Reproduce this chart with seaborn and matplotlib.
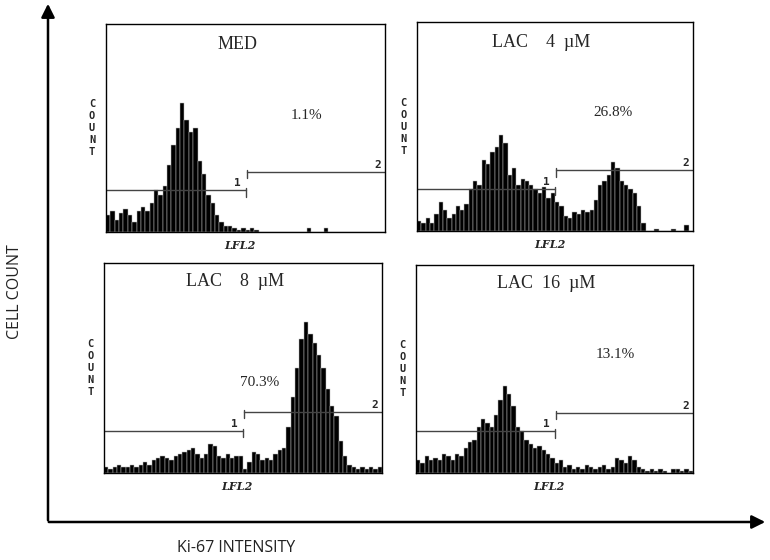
import seaborn as sns
import matplotlib.pyplot as plt
import numpy as np

sns.set_style("white")

# channel bins (64 bins over 1024 channels), counts
channels = np.arange(64) * 16 + 8

med_counts = [8, 10, 6, 9, 11, 8, 5, 10, 12, 10, 14, 20, 18, 22, 32, 42,
              50, 62, 54, 48, 50, 34, 28, 18, 14, 8, 5, 3, 3, 2, 1, 2,
              1, 2, 1, 0, 0, 0, 0, 0, 0, 0, 0, 0, 0, 0, 2, 0,
              0, 0, 2, 0, 0, 0, 0, 0, 0, 0, 0, 0, 0, 0, 0, 0]
lac4_counts = [5, 4, 6, 4, 8, 14, 10, 6, 8, 12, 10, 13, 20, 24, 22, 34,
               32, 38, 40, 46, 42, 27, 30, 22, 25, 24, 22, 20, 18, 21, 16, 18,
               14, 12, 7, 6, 9, 8, 10, 9, 10, 15, 22, 24, 27, 33, 30, 24,
               22, 20, 18, 12, 4, 0, 0, 1, 0, 0, 0, 1, 0, 0, 3, 0]
lac8_counts = [3, 2, 3, 4, 3, 3, 4, 3, 4, 5, 4, 6, 7, 8, 7, 6,
               8, 9, 10, 11, 12, 9, 7, 9, 14, 13, 8, 7, 9, 7, 8, 8,
               2, 5, 10, 9, 6, 7, 6, 9, 11, 12, 22, 36, 50, 64, 72, 66,
               62, 56, 50, 40, 32, 27, 15, 8, 4, 3, 2, 3, 2, 3, 2, 3]
lac16_counts = [6, 5, 8, 6, 7, 6, 9, 8, 6, 9, 8, 12, 15, 16, 22, 26,
                24, 22, 28, 35, 42, 38, 32, 22, 20, 16, 14, 12, 13, 11, 9, 7,
                5, 6, 3, 4, 2, 3, 2, 4, 3, 2, 3, 4, 2, 3, 7, 6,
                5, 8, 6, 3, 2, 1, 2, 1, 2, 1, 0, 2, 2, 1, 2, 1]

titles = ["MED", "LAC    4  \u00b5M", "LAC    8  \u00b5M", "LAC  16  \u00b5M"]
percents = ["1.1%", "26.8%", "70.3%", "13.1%"]
all_counts = [med_counts, lac4_counts, lac8_counts, lac16_counts]

# gate markers (channel, count level)
gate1_end = 512
gate2_start = 517
gate1_level = 20
gate2_level = 29

fig = plt.figure(figsize=(7.7, 5.6), dpi=100)

# background axes in pixel coords for the big arrows and labels
bg = fig.add_axes([0, 0, 1, 1])
bg.set_xlim(0, 770)
bg.set_ylim(560, 0)
bg.axis("off")
bg.annotate("", xy=(48, 1), xytext=(48, 523),
            arrowprops=dict(arrowstyle="-|>", lw=1.8, color="black", mutation_scale=20))
bg.annotate("", xy=(768, 522), xytext=(46, 522),
            arrowprops=dict(arrowstyle="-|>", lw=1.8, color="black", mutation_scale=20))
bg.text(15, 292, "CELL COUNT", rotation=90, ha="center", va="center",
        fontsize=11.5, family="Open Sans", color="#222222")
bg.text(236, 548, "Ki-67 INTENSITY", ha="center", va="center",
        fontsize=11.5, family="Open Sans", color="#222222")

rects = [
    [0.1377, 0.5857, 0.3623, 0.3714],
    [0.5416, 0.5875, 0.3584, 0.3732],
    [0.1351, 0.1554, 0.3610, 0.3750],
    [0.5403, 0.1554, 0.3597, 0.3714],
]
title_pos = [(0.47, 0.90), (0.45, 0.90), (0.47, 0.91), (0.47, 0.91)]
pct_pos = [(0.72, 0.56), (0.71, 0.565), (0.56, 0.43), (0.72, 0.57)]

for rect, counts, title, pct, tp, pp in zip(rects, all_counts, titles, percents, title_pos, pct_pos):
    ax = fig.add_axes(rect)
    sns.histplot(x=channels, weights=counts, binwidth=16, binrange=(0, 1024),
                 color="black", edgecolor="#bbbbbb", linewidth=0.35, alpha=1, ax=ax)
    ax.set_xlim(0, 1024)
    ax.set_ylim(0, 100)
    ax.set_xticks([])
    ax.set_yticks([])
    ax.set_xlabel("")
    ax.set_ylabel("")
    for s in ax.spines.values():
        s.set_visible(True)
        s.set_color("black")
        s.set_linewidth(1.0)

    # gate markers
    ax.plot([0, gate1_end], [gate1_level, gate1_level], color="#444444", lw=1.0)
    ax.plot([gate1_end, gate1_end], [gate1_level - 3, gate1_level + 1], color="#444444", lw=1.0)
    ax.plot([gate2_start, 1024], [gate2_level, gate2_level], color="#444444", lw=1.0)
    ax.plot([gate2_start, gate2_start], [gate2_level - 3, gate2_level + 1], color="#444444", lw=1.0)
    ax.text(gate1_end - 18, gate1_level + 1, "1", ha="right", va="bottom",
            fontsize=8, fontweight="bold", family="DejaVu Sans Mono")
    ax.text(1024 - 14, gate2_level + 1, "2", ha="right", va="bottom",
            fontsize=8, fontweight="bold", family="DejaVu Sans Mono")

    ax.text(tp[0], tp[1], title, transform=ax.transAxes, ha="center", va="center",
            fontsize=13, family="Liberation Serif")
    ax.text(pp[0], pp[1], pct, transform=ax.transAxes, ha="center", va="center",
            fontsize=11, family="Liberation Serif")
    ax.text(-0.05, 0.5, "C\nO\nU\nN\nT", transform=ax.transAxes, ha="center", va="center",
            fontsize=7.5, fontweight="bold", family="DejaVu Sans Mono", linespacing=1.25)
    ax.text(0.48, -0.065, "LFL2", transform=ax.transAxes, ha="center", va="center",
            fontsize=8, fontweight="bold", style="italic", family="DejaVu Serif")

fig.savefig("out.png", dpi=100)
plt.close(fig)
